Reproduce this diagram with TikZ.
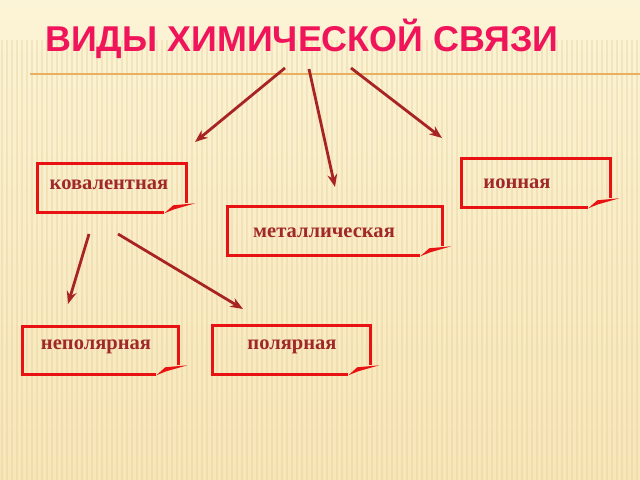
\documentclass[tikz,border=0pt]{standalone}
\usepackage{fontspec}
\setmainfont{Liberation Serif}
\newfontfamily\titlefont{Liberation Sans}
\usetikzlibrary{arrows.meta,calc,fit}
\definecolor{slidetop}{RGB}{252,244,214}
\definecolor{slidebot}{RGB}{247,230,184}
\definecolor{stripecol}{RGB}{228,205,150}
\definecolor{titlepink}{RGB}{240,20,90}
\definecolor{rulecol}{RGB}{232,176,96}
\definecolor{framered}{RGB}{232,18,18}
\definecolor{labelred}{RGB}{160,40,40}
\definecolor{arrowred}{RGB}{168,36,36}
\tikzset{
  stripe/.style={draw=stripecol, line width=1.2pt, opacity=0.35},
  titlerule/.style={draw=rulecol, line width=1.2pt},
  kind/.style={inner sep=0pt},
  kindtext/.style={anchor=base, text=labelred, font=\bfseries\fontsize{14.6}{18}\selectfont},
  frame/.style={draw=framered, line width=2pt},
  link/.style={draw=arrowred, line width=2pt, -{Stealth[length=9pt,width=7pt]}}
}
\begin{document}
\begin{tikzpicture}[x=0.025cm,y=-0.025cm]
	\useasboundingbox (0,0) rectangle (640,480);
	\shade[top color=slidetop, bottom color=slidebot] (0,0) rectangle (640,480);
	\foreach \i in {2,7,...,640}
		\draw[stripe] (\i,40) -- (\i,480);
	% title
	\node [anchor=base west, inner sep=0pt, text=titlepink, font=\titlefont\bfseries\fontsize{25.5}{30}\selectfont] (title) at (45,52) {ВИДЫ ХИМИЧЕСКОЙ СВЯЗИ};
	\draw[titlerule] (30,74) -- (640,74);
	% kinds of bond
	\node [kind, fit={(38,164) (186,212)}] (kov) {};
	\node [kind, fit={(462,159) (610,207)}] (ion) {};
	\node [kind, fit={(228,207) (442,255)}] (met) {};
	\node [kind, fit={(23,327) (178,374)}] (nonpol) {};
	\node [kind, fit={(213,326) (370,374)}] (pol) {};
	\foreach \n in {kov,ion,met,nonpol,pol} {
		\draw[frame] ($(\n.south east)+(0,-9)$) -- (\n.north east) -- (\n.north west) -- (\n.south west) -- ($(\n.south east)+(-22,0)$);
		\fill[framered] ($(\n.south east)+(-22,1)$) -- ($(\n.south east)+(-13,-7)$) -- ($(\n.south east)+(9,-9)$) -- ($(\n.south east)+(-12,-3)$) -- cycle;
	}
	\node [kindtext] (kovtxt) at (109,189) {ковалентная};
	\node [kindtext] (iontxt) at (517,188) {ионная};
	\node [kindtext] (mettxt) at (324,237) {металлическая};
	\node [kindtext] (nonpoltxt) at (96,349) {неполярная};
	\node [kindtext] (poltxt) at (292,349) {полярная};
	% arrows
	\coordinate (a1) at (285,68);  \coordinate (b1) at (195,142);
	\coordinate (a2) at (309,69);  \coordinate (b2) at (335,187);
	\coordinate (a3) at (351,68);  \coordinate (b3) at (442,138);
	\coordinate (a4) at (89,234);  \coordinate (b4) at (68,304);
	\coordinate (a5) at (118,234); \coordinate (b5) at (243,309);
	\foreach \k in {1,...,5}
		\draw[link] (a\k) -- (b\k);
\end{tikzpicture}
\end{document}
